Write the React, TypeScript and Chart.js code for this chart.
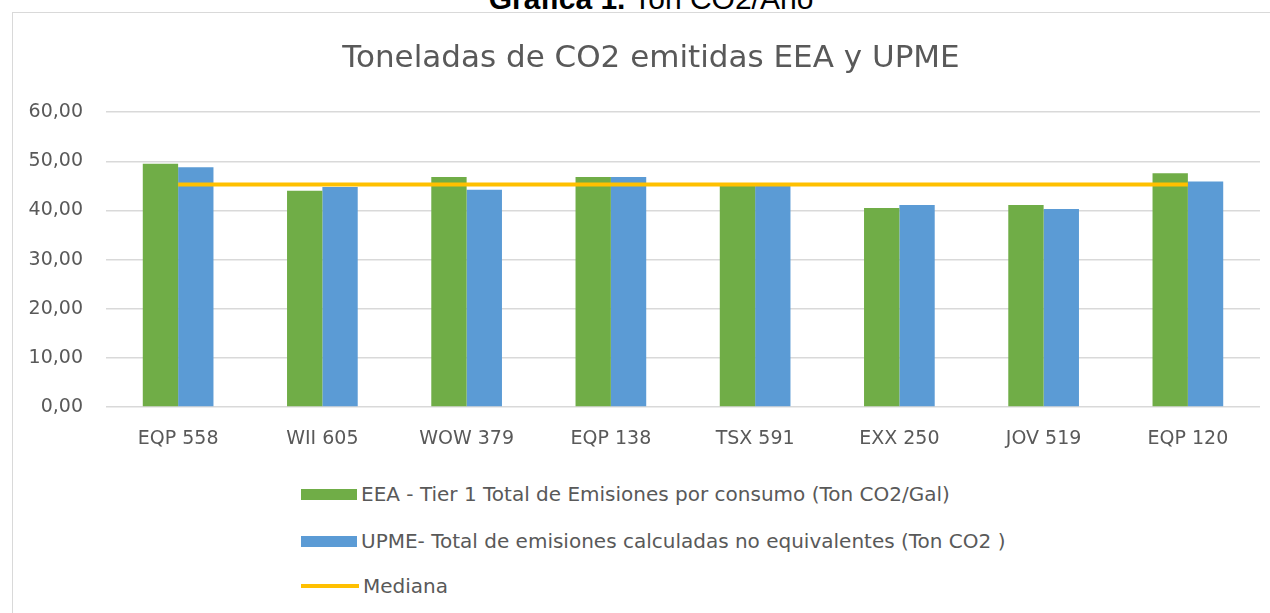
import React, { useEffect, useRef } from 'react';
import { Chart, registerables } from 'chart.js';

Chart.register(...registerables);

const categories = ['EQP 558', 'WII 605', 'WOW 379', 'EQP 138', 'TSX 591', 'EXX 250', 'JOV 519', 'EQP 120'];
const eeaValues = [49.5, 44.0, 46.8, 46.8, 45.0, 40.5, 41.1, 47.6];
const upmeValues = [48.8, 44.8, 44.2, 46.8, 45.0, 41.1, 40.3, 45.9];
const medianValues = [45.3, 45.3, 45.3, 45.3, 45.3, 45.3, 45.3, 45.3];
const yTicks = [0, 10, 20, 30, 40, 50, 60];

const seriesNames = [
  'EEA - Tier 1 Total de Emisiones por consumo (Ton CO2/Gal)',
  'UPME- Total de emisiones calculadas no equivalentes (Ton CO2 )',
  'Mediana',
];

const GREEN = '#70AD47';
const BLUE = '#5B9BD5';
const YELLOW = '#FFC000';
const TEXT = '#595959';
const FONT = "'DejaVu Sans', 'Open Sans', sans-serif";

export default function App() {
  const ref = useRef<HTMLCanvasElement | null>(null);

  useEffect(() => {
    if (!ref.current) return;
    const chart = new Chart(ref.current, {
      type: 'bar',
      data: {
        labels: categories,
        datasets: [
          {
            label: seriesNames[0],
            data: eeaValues,
            backgroundColor: GREEN,
            categoryPercentage: 0.49,
            barPercentage: 1,
            order: 1,
          },
          {
            label: seriesNames[1],
            data: upmeValues,
            backgroundColor: BLUE,
            categoryPercentage: 0.49,
            barPercentage: 1,
            order: 1,
          },
          {
            type: 'line',
            label: seriesNames[2],
            data: medianValues,
            borderColor: YELLOW,
            backgroundColor: YELLOW,
            borderWidth: 4,
            pointRadius: 0,
            fill: false,
            order: 0,
          } as any,
        ],
      },
      options: {
        responsive: false,
        animation: false,
        layout: { padding: 0 },
        plugins: {
          legend: { display: false },
          tooltip: { enabled: false },
          title: {
            display: true,
            text: 'Toneladas de CO2 emitidas EEA y UPME',
            color: TEXT,
            font: { family: FONT, size: 31, weight: 'normal' },
            padding: { top: 27, bottom: 35 },
          },
        },
        scales: {
          x: {
            grid: { display: false },
            border: { display: false },
            ticks: {
              color: TEXT,
              font: { family: FONT, size: 19 },
              padding: 13,
              maxRotation: 0,
            },
            afterFit: (s: any) => {
              s.height = 66;
            },
          },
          y: {
            min: 0,
            max: 60,
            afterBuildTicks: (s: any) => {
              s.ticks = yTicks.map((v) => ({ value: v }));
            },
            grid: { color: '#D9D9D9', lineWidth: 1.5, drawTicks: false },
            border: { display: false },
            ticks: {
              color: TEXT,
              font: { family: FONT, size: 19 },
              padding: 23,
              callback: (v: any) => Number(v).toFixed(2).replace('.', ','),
            },
            afterFit: (s: any) => {
              s.width = 93;
            },
          },
          yRight: {
            position: 'right',
            min: 0,
            max: 60,
            grid: { display: false, drawTicks: false },
            border: { display: false },
            ticks: { display: false },
            afterFit: (s: any) => {
              s.width = 29;
            },
          },
        },
      },
    });
    return () => chart.destroy();
  }, []);

  const legendRow = (top: number, swatch: React.ReactNode, text: string) => (
    <div
      style={{
        position: 'absolute',
        left: 288,
        top,
        display: 'flex',
        alignItems: 'center',
        height: 24,
        fontFamily: FONT,
        fontSize: 20,
        color: TEXT,
        whiteSpace: 'nowrap',
      }}
    >
      {swatch}
      <span style={{ marginLeft: 4 }}>{text}</span>
    </div>
  );

  return (
    <div style={{ position: 'fixed', inset: 0, background: '#fff', overflow: 'hidden' }}>
      <div
        style={{
          position: 'absolute',
          left: 0,
          width: 1302,
          top: -18,
          textAlign: 'center',
          fontFamily: "'Liberation Sans', Arial, sans-serif",
          fontSize: 30,
          lineHeight: 'normal',
          color: '#000',
        }}
      >
        <b>Gráfica 1.</b> Ton CO2/Año
      </div>
      <div
        style={{
          position: 'absolute',
          left: 12,
          top: 12,
          width: 1290,
          height: 640,
          border: '1px solid #D9D9D9',
          boxSizing: 'border-box',
        }}
      >
        <canvas ref={ref} width={1276} height={460} style={{ display: 'block', width: 1276, height: 460 }} />
        {legendRow(469, <div style={{ width: 56, height: 11, background: GREEN }} />, seriesNames[0])}
        {legendRow(516, <div style={{ width: 56, height: 11, background: BLUE }} />, seriesNames[1])}
        {legendRow(561, <div style={{ width: 58, height: 4, background: YELLOW }} />, seriesNames[2])}
      </div>
    </div>
  );
}
